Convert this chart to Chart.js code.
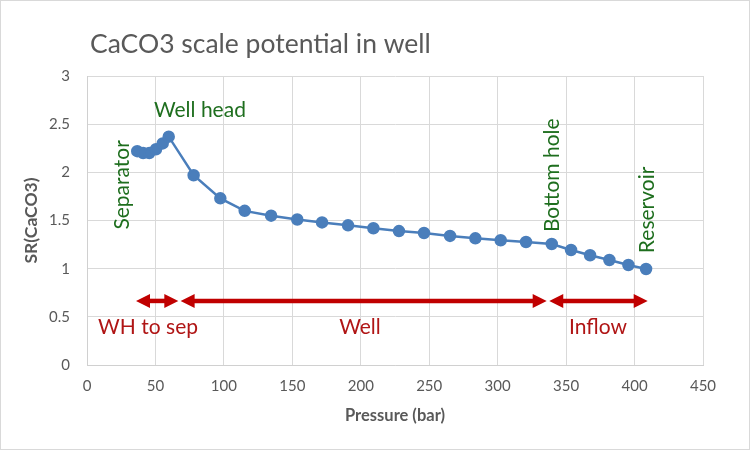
<!DOCTYPE html>
<html>
<head>
<meta charset="utf-8">
<script src="https://cdn.jsdelivr.net/npm/chart.js@4/dist/chart.umd.min.js"></script>
<style>
  html, body { margin: 0; padding: 0; background: #fff; }
  #wrap { width: 748px; height: 448px; border: 1px solid #d9d9d9; }
</style>
</head>
<body>
<div id="wrap"><canvas id="scaleChart" width="748" height="448"></canvas></div>
<script>
// pressure (bar) and saturation ratio
const pressure = [36.7, 41, 45.5, 50.4, 55.3, 59.7, 77.9, 97.4, 115.2, 134.5, 153.6, 171.7, 190.7, 209.2,
  227.9, 246.2, 265.2, 283.7, 302.2, 320.7, 339.5, 353.6, 367.5, 381.6, 395.5, 408.4];
const srCaCO3 = [2.22, 2.20, 2.20, 2.24, 2.30, 2.37, 1.97, 1.73, 1.60, 1.55, 1.51, 1.48, 1.45, 1.42,
  1.39, 1.37, 1.34, 1.315, 1.295, 1.277, 1.256, 1.194, 1.139, 1.09, 1.038, 0.997];

// flow zones along the pressure axis
const zoneNames = ['WH to sep', 'Well', 'Inflow'];
const zoneStart = [35.8, 68.4, 337.7];
const zoneEnd = [66.7, 335.8, 409.6];

// point labels (green)
const markNames = ['Well head', 'Separator', 'Bottom hole', 'Reservoir'];

const font = 'Lato, Carlito, Calibri, sans-serif';
const grey = '#595959';

const annotations = {
  id: 'annotations',
  afterDatasetsDraw(chart) {
    const c = chart.ctx;
    const xs = chart.scales.x, ys = chart.scales.y;
    c.save();

    // zone arrows
    const ay = ys.getPixelForValue(0.665);
    c.strokeStyle = '#c00000';
    c.fillStyle = '#c00000';
    c.lineWidth = 4.5;
    zoneNames.forEach((name, i) => {
      const x1 = xs.getPixelForValue(zoneStart[i]);
      const x2 = xs.getPixelForValue(zoneEnd[i]);
      c.beginPath();
      c.moveTo(x1 + 10, ay);
      c.lineTo(x2 - 10, ay);
      c.stroke();
      [[x1, 1], [x2, -1]].forEach(([x, d]) => {
        c.beginPath();
        c.moveTo(x, ay);
        c.lineTo(x + d * 14, ay - 7);
        c.lineTo(x + d * 14, ay + 7);
        c.closePath();
        c.fill();
      });
    });

    // zone names
    const zoneLabelX = [44.6, 199.4, 373.3];
    c.fillStyle = '#b01515';
    c.font = '21px ' + font;
    c.textAlign = 'center';
    c.textBaseline = 'middle';
    zoneNames.forEach((name, i) => {
      c.fillText(name, xs.getPixelForValue(zoneLabelX[i]), ys.getPixelForValue(0.39));
    });

    // green marker labels
    const markX = [82.5, 25.6, 339.7, 409];
    const markY = [2.64, 1.87, 1.97, 1.61];
    const markRot = [false, true, true, true];
    c.fillStyle = '#1e6e1e';
    markNames.forEach((name, i) => {
      c.save();
      c.translate(xs.getPixelForValue(markX[i]), ys.getPixelForValue(markY[i]));
      if (markRot[i]) c.rotate(-Math.PI / 2);
      c.fillText(name, 0, 0);
      c.restore();
    });

    // chart title
    c.fillStyle = grey;
    c.font = '26.5px ' + font;
    c.textAlign = 'left';
    c.fillText('CaCO3 scale potential in well', 89, 43);
    c.restore();
  }
};

new Chart(document.getElementById('scaleChart'), {
  type: 'scatter',
  data: {
    datasets: [{
      label: 'SR(CaCO3)',
      data: pressure.map((p, i) => ({ x: p, y: srCaCO3[i] })),
      showLine: true,
      borderColor: '#4a7ebb',
      backgroundColor: '#4a7ebb',
      borderWidth: 2.5,
      pointRadius: 5,
      pointHoverRadius: 5
    }]
  },
  options: {
    responsive: false,
    animation: false,
    layout: { padding: { left: 16, right: 46, top: 75, bottom: 19 } },
    plugins: {
      legend: { display: false },
      tooltip: { enabled: false }
    },
    scales: {
      x: {
        type: 'linear',
        min: 0,
        max: 450,
        afterFit: s => { s.height = 65; },
        ticks: { stepSize: 50, padding: 12, color: grey, font: { family: font, size: 15 } },
        grid: { color: '#d9d9d9', drawTicks: false },
        border: { color: '#d0d0d0' },
        title: { display: true, text: 'Pressure (bar)', color: grey, font: { family: font, size: 16.5, weight: 'bold' } }
      },
      y: {
        min: 0,
        max: 3,
        afterFit: s => { s.width = 70; },
        ticks: {
          stepSize: 0.5, padding: 17, color: grey, font: { family: font, size: 15 },
          callback: v => String(v)
        },
        grid: { color: '#d9d9d9', drawTicks: false },
        border: { color: '#d0d0d0' },
        title: { display: true, text: 'SR(CaCO3)', color: grey, font: { family: font, size: 17.5, weight: 'bold' } }
      }
    }
  },
  plugins: [annotations]
});
</script>
</body>
</html>
